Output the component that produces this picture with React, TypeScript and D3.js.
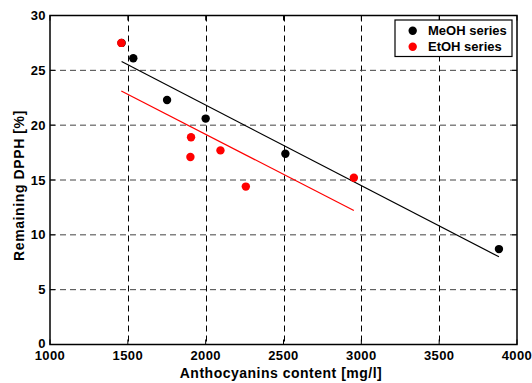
import { useEffect, useRef } from 'react';
import * as d3 from 'd3';

const meohX = [1460, 1535, 1752, 2000, 2512, 3884];
const meohY = [27.5, 26.1, 22.3, 20.6, 17.4, 8.7];
const etohX = [1458, 1906, 1902, 2095, 2258, 2952];
const etohY = [27.5, 18.9, 17.1, 17.7, 14.4, 15.2];
const xTicks = [1000, 1500, 2000, 2500, 3000, 3500, 4000];
const yTicks = [0, 5, 10, 15, 20, 25, 30];

const WIDTH = 532;
const HEIGHT = 383;
const FONT = "'Liberation Sans', Arial, Helvetica, sans-serif";

function fit(xs: number[], ys: number[]) {
  const mx = d3.mean(xs) ?? 0;
  const my = d3.mean(ys) ?? 0;
  const sxy = d3.sum(xs, (x, i) => (x - mx) * (ys[i] - my));
  const sxx = d3.sum(xs, (x) => (x - mx) * (x - mx));
  const slope = sxy / sxx;
  const [x0, x1] = d3.extent(xs) as [number, number];
  return [
    [x0, my + slope * (x0 - mx)],
    [x1, my + slope * (x1 - mx)],
  ] as [number, number][];
}

export default function App() {
  const svgRef = useRef<SVGSVGElement>(null);

  useEffect(() => {
    if (!svgRef.current) return;
    const svg = d3.select(svgRef.current);
    svg.selectAll('*').remove();

    const left = 50;
    const right = 517;
    const top = 15.5;
    const bottom = 344.5;

    const x = d3.scaleLinear().domain([1000, 4000]).range([left, right]);
    const y = d3.scaleLinear().domain([0, 30]).range([bottom, top]);

    // grid
    const grid = svg.append('g').attr('stroke', '#000').attr('stroke-width', 1).attr('stroke-dasharray', '6 4');
    grid
      .selectAll('line.v')
      .data(xTicks.slice(1, -1))
      .join('line')
      .attr('x1', (d) => Math.round(x(d)) + 0.5)
      .attr('x2', (d) => Math.round(x(d)) + 0.5)
      .attr('y1', top)
      .attr('y2', bottom);
    grid
      .selectAll('line.h')
      .data(yTicks.slice(1, -1))
      .join('line')
      .attr('stroke', '#444')
      .attr('x1', left)
      .attr('x2', right)
      .attr('y1', (d) => y(d))
      .attr('y2', (d) => y(d));

    // box
    svg
      .append('rect')
      .attr('x', left)
      .attr('y', top)
      .attr('width', right - left)
      .attr('height', bottom - top)
      .attr('fill', 'none')
      .attr('stroke', '#000')
      .attr('stroke-width', 1.5);

    // inward ticks on all four sides
    const tickLen = 5;
    const ticks = svg.append('g').attr('stroke', '#000').attr('stroke-width', 1);
    xTicks.forEach((t) => {
      ticks.append('line').attr('x1', x(t)).attr('x2', x(t)).attr('y1', bottom).attr('y2', bottom - tickLen);
      ticks.append('line').attr('x1', x(t)).attr('x2', x(t)).attr('y1', top).attr('y2', top + tickLen);
    });
    yTicks.forEach((t) => {
      ticks.append('line').attr('x1', left).attr('x2', left + tickLen).attr('y1', y(t)).attr('y2', y(t));
      ticks.append('line').attr('x1', right).attr('x2', right - tickLen).attr('y1', y(t)).attr('y2', y(t));
    });

    // tick labels
    svg
      .append('g')
      .selectAll('text')
      .data(xTicks)
      .join('text')
      .attr('x', (d) => x(d))
      .attr('y', 360)
      .attr('text-anchor', 'middle')
      .attr('font-family', FONT)
      .attr('font-weight', 'bold')
      .attr('font-size', 13)
      .attr('letter-spacing', 0.4)
      .text((d) => d);
    svg
      .append('g')
      .selectAll('text')
      .data(yTicks)
      .join('text')
      .attr('x', 46)
      .attr('y', (d) => y(d) + (d === 0 ? 3.5 : 4.5))
      .attr('text-anchor', 'end')
      .attr('font-family', FONT)
      .attr('font-weight', 'bold')
      .attr('font-size', 13)
      .attr('letter-spacing', 0.4)
      .text((d) => d);

    // axis titles
    svg
      .append('text')
      .attr('x', 281)
      .attr('y', 378)
      .attr('text-anchor', 'middle')
      .attr('font-family', FONT)
      .attr('font-weight', 'bold')
      .attr('font-size', 14)
      .attr('letter-spacing', 0.5)
      .text('Anthocyanins content [mg/l]');
    svg
      .append('text')
      .attr('transform', 'translate(24,185.5) rotate(-90)')
      .attr('text-anchor', 'middle')
      .attr('font-family', FONT)
      .attr('font-weight', 'bold')
      .attr('font-size', 14)
      .attr('letter-spacing', 0.6)
      .text('Remaining DPPH [%]');

    const line = d3
      .line<[number, number]>()
      .x((d) => x(d[0]))
      .y((d) => y(d[1]));

    const series = [
      { xs: meohX, ys: meohY, color: '#000' },
      { xs: etohX, ys: etohY, color: '#ff0000' },
    ];

    series.forEach((s) => {
      svg
        .append('path')
        .datum(fit(s.xs, s.ys))
        .attr('fill', 'none')
        .attr('stroke', s.color)
        .attr('stroke-width', 1.2)
        .attr('d', line);
    });
    series.forEach((s) => {
      svg
        .append('g')
        .selectAll('circle')
        .data(s.xs)
        .join('circle')
        .attr('cx', (d) => x(d))
        .attr('cy', (_, i) => y(s.ys[i]))
        .attr('r', 4.2)
        .attr('fill', s.color);
    });

    // legend
    const legend = svg.append('g');
    legend
      .append('rect')
      .attr('x', 395)
      .attr('y', 20)
      .attr('width', 117)
      .attr('height', 36.5)
      .attr('fill', '#fff')
      .attr('stroke', '#000')
      .attr('stroke-width', 1.2);
    const entries = [
      { label: 'MeOH series', color: '#000' },
      { label: 'EtOH series', color: '#ff0000' },
    ];
    entries.forEach((e, i) => {
      const cy = 30.7 + i * 16;
      legend.append('circle').attr('cx', 412.7).attr('cy', cy).attr('r', 4.2).attr('fill', e.color);
      legend
        .append('text')
        .attr('x', 428)
        .attr('y', cy + 4.6)
        .attr('font-family', FONT)
        .attr('font-weight', 'bold')
        .attr('font-size', 13)
        .text(e.label);
    });
  }, []);

  return (
    <svg
      ref={svgRef}
      width={WIDTH}
      height={HEIGHT}
      style={{ position: 'absolute', left: 0, top: 0, background: '#fff' }}
    />
  );
}
